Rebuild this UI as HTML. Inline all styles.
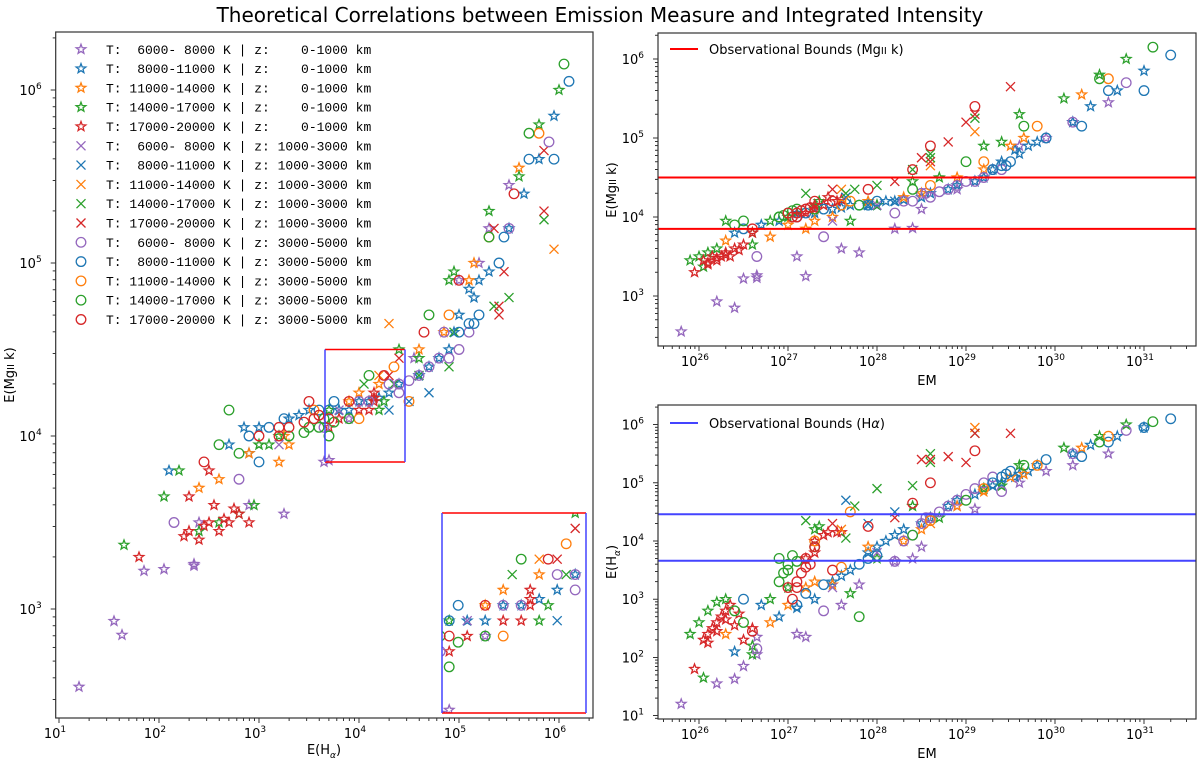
<!DOCTYPE html>
<html><head><meta charset="utf-8">
<style>
html,body{margin:0;padding:0;background:#fff;width:1200px;height:766px;overflow:hidden;}
svg{display:block;font-family:"DejaVu Sans","Liberation Sans",sans-serif;}
.leg{font-family:"Liberation Mono","DejaVu Sans Mono",monospace;font-size:13px;white-space:pre;}
</style></head>
<body>
<svg id="chart" width="1200" height="766" viewBox="0 0 1200 766" xmlns="http://www.w3.org/2000/svg">
<text x="600" y="22" text-anchor="middle" font-size="20">Theoretical Correlations between Emission Measure and Integrated Intensity</text>
<g id="root"></g>
</svg>
<script>
// Data: each point = [log10 EM, log10 E(Halpha), log10 E(MgII k)]
const temps = ['6000- 8000','8000-11000','11000-14000','14000-17000','17000-20000'];
const heights = ['   0-1000','1000-3000','3000-5000'];
const colors = ['#9467bd','#1f77b4','#ff7f0e','#2ca02c','#d62728'];
const mgBounds = [3.85, 4.50];
const haBounds = [3.66, 4.46];

const starPurple = [[25.8,1.2,2.55],[26.2,1.55,2.93],[26.4,1.63,2.85],[26.5,1.85,3.22],[26.65,2.05,3.23],[26.65,2.35,3.26],[27.1,2.4,3.5],[27.2,2.35,3.25],[27.6,2.9,3.6],[27.8,3.25,3.55],[28.2,3.65,3.85],[28.4,3.7,3.86],[28.5,3.9,4.1],[28.9,4.6,4.35],[29.1,4.55,4.45],[29.6,5.0,4.9],[30.2,5.3,5.2],[30.6,5.5,5.45],[29.9,5.2,5.0]];
const starBlue = [[26.4,2.1,3.8],[26.7,2.9,3.9],[26.9,2.7,3.95],[27.1,2.85,4.05],[27.5,3.3,4.1],[27.7,3.5,4.15],[28.0,3.9,4.15],[28.2,4.1,4.2],[28.5,4.3,4.25],[28.8,4.6,4.35],[29.1,4.8,4.45],[29.3,4.95,4.6],[29.55,5.1,4.85],[29.8,5.3,4.95],[30.2,5.5,5.2],[30.4,5.65,5.4],[30.7,5.8,5.6],[31.0,5.95,5.85],[28.3,4.2,4.22],[29.6,5.15,4.8],[27.3,3.0,4.05],[27.6,3.4,4.12],[27.9,3.8,4.15],[28.1,4.0,4.2],[28.6,4.4,4.3],[28.9,4.7,4.4],[29.2,4.9,4.5],[29.4,5.0,4.7],[29.7,5.2,4.9]];
const starOrange = [[26.3,2.4,3.7],[26.8,2.6,3.75],[27.2,3.2,3.85],[27.5,3.25,4.0],[28.3,4.0,4.25],[28.9,4.6,4.5],[29.5,5.1,4.9],[29.65,5.15,5.0],[30.3,5.6,5.55],[27.9,3.9,4.2],[27.0,2.9,3.9],[27.3,3.3,3.95],[28.5,4.2,4.3],[29.2,4.85,4.6]];
const starGreen = [[26.05,1.65,3.37],[25.9,2.4,3.45],[26.0,2.6,3.5],[26.1,2.8,3.55],[26.2,2.95,3.6],[26.6,2.05,3.65],[26.6,2.2,3.8],[27.35,4.25,4.2],[27.7,3.1,3.95],[28.0,3.7,4.15],[28.7,4.4,4.5],[29.4,4.95,4.95],[29.6,5.3,5.3],[30.1,5.6,5.5],[30.5,5.8,5.8],[30.8,6.0,6.0],[28.4,4.6,4.45],[26.8,3.0,3.95],[27.0,3.2,4.0],[27.3,4.2,4.15],[29.2,4.9,4.9],[26.3,3.0,3.95]];
const starRed = [[25.95,1.8,3.3],[26.05,2.3,3.45],[26.1,2.4,3.4],[26.15,2.5,3.5],[26.2,2.6,3.45],[26.25,2.7,3.5],[26.3,2.8,3.55],[26.35,2.9,3.5],[26.4,2.55,3.6],[26.5,2.3,3.65],[26.6,2.5,3.8],[27.3,3.8,4.1],[27.4,4.1,4.15],[27.55,4.15,4.2],[27.2,3.7,4.05],[26.1,2.25,3.42],[26.2,2.45,3.48],[26.3,2.65,3.52],[26.45,2.75,3.58],[27.3,4.0,4.15],[27.45,4.15,4.25],[27.6,4.15,4.22]];
const xPurple = [[27.5,3.2,3.95],[28.0,3.8,4.15]];
const xBlue = [[27.65,4.7,4.25],[27.9,4.3,4.15],[28.2,4.5,4.2]];
const xOrange = [[27.6,4.2,4.35],[28.6,4.3,4.65],[29.1,5.95,5.08]];
const xGreen = [[27.2,4.35,4.3],[27.75,4.6,4.35],[28.0,4.9,4.4],[28.4,4.95,4.6],[28.6,5.35,4.75],[29.1,5.85,5.25],[28.6,5.5,4.8],[27.65,4.05,4.3]];
const xRed = [[28.2,4.4,4.45],[28.6,5.4,4.7],[28.8,5.45,4.95],[29.0,5.35,5.2],[29.1,5.85,5.3],[29.5,5.85,5.65],[27.5,4.3,4.35],[28.5,5.4,4.75]];
const oPurple = [[26.65,2.15,3.5],[27.4,2.8,3.75],[28.2,3.65,4.05],[28.4,4.1,4.2],[28.6,4.4,4.25],[28.8,4.6,4.35],[29.0,4.8,4.45],[29.3,5.1,4.6],[29.4,4.85,4.6],[30.2,5.5,5.2],[30.8,5.9,5.7],[28.5,4.3,4.3],[28.7,4.5,4.32],[28.9,4.7,4.4],[29.1,4.9,4.45],[29.2,5.0,4.5],[28.3,4.0,4.2],[28.55,4.4,4.3]];
const oBlue = [[26.5,3.0,3.85],[27.1,2.9,4.0],[27.4,3.25,4.1],[27.9,3.7,4.15],[28.0,3.75,4.2],[29.4,5.1,4.65],[29.5,5.2,4.7],[29.9,5.4,5.0],[30.3,5.45,5.15],[30.6,5.7,5.6],[31.0,5.95,5.6],[31.3,6.1,6.05],[27.2,3.1,4.05],[27.8,3.6,4.15],[29.3,5.0,4.6],[29.45,5.15,4.65]];
const oOrange = [[27.3,4.0,4.1],[27.7,4.5,4.2],[28.6,4.35,4.4],[29.2,4.9,4.7],[29.8,5.3,5.15],[30.6,5.8,5.75],[27.6,3.55,4.15]];
const oGreen = [[26.4,2.8,3.9],[26.9,3.7,4.0],[27.0,3.5,4.05],[27.3,3.9,4.1],[27.8,2.7,4.15],[28.4,4.1,4.35],[29.0,4.7,4.7],[29.65,5.3,5.15],[30.5,5.7,5.75],[31.1,6.05,6.15],[26.9,3.3,4.0],[26.95,3.45,4.02],[27.0,3.6,4.05],[27.05,3.75,4.08],[27.1,3.65,4.1],[26.5,2.6,3.95]];
const oRed = [[26.6,2.45,3.85],[27.0,3.2,4.05],[27.2,3.7,4.1],[27.5,3.5,4.2],[27.9,4.25,4.35],[28.4,4.65,4.6],[28.6,5.0,4.9],[29.1,5.55,5.4],[27.3,3.9,4.2],[27.1,3.3,4.05],[27.15,3.45,4.08],[27.2,3.55,4.1],[27.25,3.6,4.12],[27.1,3.2,4.0],[27.05,3.0,4.0]];

const seriesData = [starPurple,starBlue,starOrange,starGreen,starRed,xPurple,xBlue,xOrange,xGreen,xRed,oPurple,oBlue,oOrange,oGreen,oRed];

const NS='http://www.w3.org/2000/svg';
const root=document.getElementById('root');
function mk(tag,attrs,parent){const e=document.createElementNS(NS,tag);for(const k in attrs)e.setAttribute(k,attrs[k]);(parent||root).appendChild(e);return e;}

function lin(d0,d1,p0,p1){return v=>p0+(v-d0)/(d1-d0)*(p1-p0);}
const L={x0:55.7,x1:593,y0:32,y1:718, sx:lin(1,6,59,559), sy:lin(3,4,609,436), xr:[0.967,6.34], yr:[2.37,6.335]};
const TR={x0:658,x1:1196,y0:33,y1:346, sx:lin(26,27,699,788), sy:lin(4,5,217,138), xr:[25.54,31.58], yr:[2.37,6.33]};
const BR={x0:658,x1:1196,y0:405,y1:719, sx:lin(26,27,699,788), sy:lin(4,5,541,482.8), xr:[25.54,31.58], yr:[0.94,6.34]};
const IN={x0:442,x1:586,y0:513,y1:713, sx:lin(haBounds[0],haBounds[1],442,586), sy:lin(mgBounds[0],mgBounds[1],713,513)};

function marker(g,kind,x,y,c){
  let e;
  if(kind===0){
    let d='';const R=5,r=2.1;
    for(let i=0;i<10;i++){const a=-Math.PI/2+i*Math.PI/5;const rr=i%2?r:R;d+=(i?'L':'M')+(x+rr*Math.cos(a)).toFixed(1)+' '+(y+rr*Math.sin(a)).toFixed(1);}
    e=mk('path',{d:d+'Z',fill:'none',stroke:c,'stroke-width':1.3},g);
  }else if(kind===1){
    const s=4.5;
    e=mk('path',{d:`M${x-s} ${y-s}L${x+s} ${y+s}M${x-s} ${y+s}L${x+s} ${y-s}`,stroke:c,'stroke-width':1.3,fill:'none'},g);
  }else{
    e=mk('circle',{cx:x,cy:y,r:4.8,fill:'none',stroke:c,'stroke-width':1.3},g);
  }
  
  
}

function sup(t,x,y,anchor,exp,base){
  const e=mk('text',{x:x,y:y,'text-anchor':anchor,'font-size':13},base);
  
  
  const a=mk('tspan',{},e);a.textContent='10';
  const b=mk('tspan',{dy:-6,'font-size':9},e);b.textContent=exp;
}

function axes(P,name,xDec,yDec){
  const g=mk('g',{});
  
  
  const cid='clip-'+name;
  const cp=mk('clipPath',{id:cid},g);mk('rect',{x:P.x0,y:P.y0,width:P.x1-P.x0,height:P.y1-P.y0},cp);
  for(let d=Math.floor(P.xr[0]);d<=Math.ceil(P.xr[1]);d++){
    for(let m=1;m<10;m++){const v=d+Math.log10(m);if(v<P.xr[0]||v>P.xr[1])continue;const px=P.sx(v);
      mk('line',{x1:px,x2:px,y1:P.y1,y2:P.y1+(m===1?5:3),stroke:'#000','stroke-width':0.8},g);}
  }
  xDec.forEach(d=>sup('',P.sx(d)-4,P.y1+20,'middle',String(d),g));
  for(let d=Math.floor(P.yr[0]);d<=Math.ceil(P.yr[1]);d++){
    for(let m=1;m<10;m++){const v=d+Math.log10(m);if(v<P.yr[0]||v>P.yr[1])continue;const py=P.sy(v);
      mk('line',{x1:P.x0,x2:P.x0-(m===1?5:3),y1:py,y2:py,stroke:'#000','stroke-width':0.8},g);}
  }
  yDec.forEach(d=>sup('',P.x0-14,P.sy(d)+5,'end',String(d),g));
  const pg=mk('g',{'clip-path':`url(#${cid})`},g);
  return pg;
}

const lp=axes(L,'left-panel-mg-vs-ha',[1,2,3,4,5,6],[3,4,5,6]);
seriesData.forEach((s,i)=>{s.forEach(p=>marker(lp,Math.floor(i/5),L.sx(p[1]),L.sy(p[2]),colors[i%5]));});
const zb=mk('g',{});
const bx0=L.sx(haBounds[0]),bx1=L.sx(haBounds[1]),by0=L.sy(mgBounds[1]),by1=L.sy(mgBounds[0]);
mk('line',{x1:bx0,x2:bx1,y1:by0,y2:by0,stroke:'#ff0000','stroke-width':1.5},zb);
mk('line',{x1:bx0,x2:bx1,y1:by1,y2:by1,stroke:'#ff0000','stroke-width':1.5},zb);
mk('line',{x1:bx0,x2:bx0,y1:by0,y2:by1,stroke:'#4444ff','stroke-width':1.5},zb);
mk('line',{x1:bx1,x2:bx1,y1:by0,y2:by1,stroke:'#4444ff','stroke-width':1.5},zb);
const ig=mk('g',{});
const icp=mk('clipPath',{id:'clip-inset'},ig);mk('rect',{x:IN.x0,y:IN.y0,width:IN.x1-IN.x0,height:IN.y1-IN.y0},icp);
mk('rect',{x:IN.x0,y:IN.y0,width:IN.x1-IN.x0,height:IN.y1-IN.y0,fill:'#fff'},ig);
const ipg=mk('g',{'clip-path':'url(#clip-inset)'},ig);
seriesData.forEach((s,i)=>{s.forEach(p=>marker(ipg,Math.floor(i/5),IN.sx(p[1]),IN.sy(p[2]),colors[i%5]));});
mk('line',{x1:IN.x0,x2:IN.x1,y1:IN.y0,y2:IN.y0,stroke:'#ff0000','stroke-width':1.5},ig);
mk('line',{x1:IN.x0,x2:IN.x1,y1:IN.y1,y2:IN.y1,stroke:'#ff0000','stroke-width':1.5},ig);
mk('line',{x1:IN.x0,x2:IN.x0,y1:IN.y0,y2:IN.y1,stroke:'#4444ff','stroke-width':1.5},ig);
mk('line',{x1:IN.x1,x2:IN.x1,y1:IN.y0,y2:IN.y1,stroke:'#4444ff','stroke-width':1.5},ig);

const lg=mk('g',{});
for(let i=0;i<15;i++){
  const y=49.3+i*19.3;
  marker(lg,Math.floor(i/5),81,y,colors[i%5]);
  const t=mk('text',{x:106,y:y+4.5,class:'leg','xml:space':'preserve'},lg);
  
  
  const tp=temps[i%5].padStart(11,' ');
  t.textContent='T: '+tp+' K | z: '+heights[Math.floor(i/5)]+' km';
}

const tp=axes(TR,'top-right-mg-vs-em',[26,27,28,29,30,31],[3,4,5,6]);
seriesData.forEach((s,i)=>{s.forEach(p=>marker(tp,Math.floor(i/5),TR.sx(p[0]),TR.sy(p[2]),colors[i%5]));});
mgBounds.forEach(b=>{const e=mk('line',{x1:TR.x0,x2:TR.x1,y1:TR.sy(b),y2:TR.sy(b),stroke:'#ff0000','stroke-width':2},tp);});
const bp=axes(BR,'bottom-right-ha-vs-em',[26,27,28,29,30,31],[1,2,3,4,5,6]);
seriesData.forEach((s,i)=>{s.forEach(p=>marker(bp,Math.floor(i/5),BR.sx(p[0]),BR.sy(p[1]),colors[i%5]));});
haBounds.forEach(b=>{const e=mk('line',{x1:BR.x0,x2:BR.x1,y1:BR.sy(b),y2:BR.sy(b),stroke:'#4444ff','stroke-width':2},bp);});

[L,TR,BR].forEach(P=>{const r=mk('rect',{x:P.x0,y:P.y0,width:P.x1-P.x0,height:P.y1-P.y0,fill:'none',stroke:'#333','stroke-width':1.2});});

function rleg(y,c,txt,nm){
  const g=mk('g',{});
  mk('line',{x1:670,x2:698,y1:y,y2:y,stroke:c,'stroke-width':2},g);
  const t=mk('text',{x:709,y:y+5,'font-size':13},g);t.innerHTML=txt;
}
rleg(49,'#ff0000','Observational Bounds (Mg<tspan font-size="10">II</tspan> k)','mg-bounds-legend');
rleg(423,'#4444ff','Observational Bounds (H<tspan font-style="italic">α</tspan>)','ha-bounds-legend');

function label(x,y,html,rot,nm){const t=mk('text',{x:x,y:y,'text-anchor':'middle','font-size':13,transform:rot?`rotate(-90 ${x} ${y})`:''});t.innerHTML=html;}
label(324,754,'E(H<tspan font-size="9" dy="4" font-style="italic">α</tspan><tspan dy="-4">)</tspan>',false,'left-x-axis-title');
label(14,375,'E(Mg<tspan font-size="10">II</tspan> k)',true,'left-y-axis-title');
label(927,385,'EM',false,'top-right-x-axis-title');
label(616,190,'E(Mg<tspan font-size="10">II</tspan> k)',true,'top-right-y-axis-title');
label(927,758,'EM',false,'bottom-right-x-axis-title');
label(616,562,'E(H<tspan font-size="9" dy="4" font-style="italic">α</tspan><tspan dy="-4">)</tspan>',true,'bottom-right-y-axis-title');
</script>
</body></html>
